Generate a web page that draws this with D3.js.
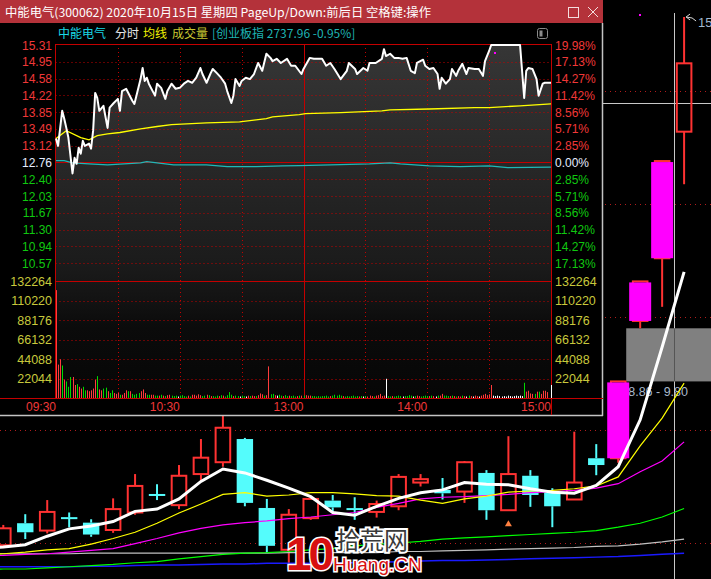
<!DOCTYPE html>
<html><head><meta charset="utf-8">
<script src="https://cdn.jsdelivr.net/npm/d3@7/dist/d3.min.js"></script>
<style>html,body{margin:0;padding:0;background:#000;overflow:hidden}svg{display:block}</style>
</head><body>
<svg id="chart" width="711" height="579"></svg>
<script>
// ================= DATA =================
const titleText = "中能电气(300062) 2020年10月15日 星期四 PageUp/Down:前后日 空格键:操作";
const stockName = "中能电气";
const indexLabel = "[创业板指 2737.96 -0.95%]";
const prevClose = 12.76;

const priceTicks = [15.31,14.95,14.58,14.22,13.85,13.49,13.12,12.76,12.40,12.03,11.67,11.30,10.94,10.57];
const pctTicks = ["19.98%","17.13%","14.27%","11.42%","8.56%","5.71%","2.85%","0.00%","2.85%","5.71%","8.56%","11.42%","14.27%","17.13%"];
const volTicks = [132264,110220,88176,66132,44088,22044];
const timeTickMin = [0,60,120,180,240];
const timeTickLabels = ["09:30","10:30","13:00","14:00","15:00"];
const gridMinutes = [30,60,90,120,150,180,210];

// intraday price (minute index from 09:30, price)
const priceMinute = [0,1,3,4,5,6,8,9,10,11,12,13,14,16,17,18,19,20,21,23,25,26,28,30,31,32,34,37,38,41,42,43,44,45,48,49,51,53,54,56,58,60,62,64,66,68,70,71,73,75,76,78,80,82,83,85,86,87,89,90,92,94,96,98,100,102,104,105,107,109,112,114,116,119,120,123,125,129,131,133,135,138,141,142,145,146,149,151,152,155,158,159,160,162,164,166,168,170,172,174,175,178,179,181,183,185,186,187,189,191,192,194,195,197,199,200,203,205,207,208,210,211,225,227,228,229,231,233,234,236,237,240];
const priceValue  = [13.28,13.12,13.88,13.71,13.51,13.30,12.52,12.86,12.73,13.08,12.95,13.23,13.12,13.17,13.06,13.45,14.27,14.16,13.88,13.99,13.51,13.95,14.05,14.14,13.88,14.31,14.36,14.10,14.03,14.57,14.81,14.53,14.60,14.47,14.21,14.47,14.38,14.14,14.31,14.47,14.36,14.38,14.47,14.53,14.49,14.60,14.81,14.68,14.49,14.70,14.79,14.70,14.60,14.47,14.31,14.05,14.21,14.57,14.42,14.53,14.60,14.57,14.68,14.92,14.75,15.12,15.03,14.96,15.01,14.92,15.01,14.86,14.86,14.68,14.79,15.03,15.01,15.01,14.86,14.92,14.79,14.57,14.75,14.92,14.79,14.68,14.81,14.75,14.92,14.92,15.01,15.22,15.07,15.12,15.03,15.03,15.01,15.03,14.75,14.70,14.92,14.99,14.86,14.79,14.81,14.68,14.36,14.60,14.47,14.57,14.79,14.64,14.75,14.90,14.68,14.81,14.79,14.79,14.64,14.96,15.18,15.31,15.31,14.16,14.75,14.81,14.79,14.57,14.21,14.47,14.49,14.49];

// average price line
const avgMinute = [0,5,12,16,20,25,31,41,49,56,73,89,102,105,118,121,138,158,162,181,203,210,225,240];
const avgValue  = [13.28,13.45,13.30,13.25,13.34,13.38,13.41,13.49,13.54,13.58,13.62,13.64,13.71,13.75,13.80,13.82,13.84,13.88,13.90,13.92,13.95,13.95,13.99,14.03];

// ChiNext index, % change
const indexMinute = [0,4,8,16,25,41,44,49,57,73,83,97,110,118,133,152,162,167,181,196,210,219,240];
const indexPct    = [0.32,0.32,-0.07,-0.24,-0.41,-0.07,0.15,-0.07,-0.41,-0.41,-0.70,-0.70,-0.58,-0.53,-0.41,-0.24,-0.07,-0.24,-0.58,-0.70,-0.58,-0.87,-0.80];

// per-minute volume (shares) and bar colour code r/g/w
const volume = [
122000,38000,44000,37000,21000,19000,13000,24000,24000,15000,
16000,13000,11000,13000,9000,9000,8000,9000,11000,21000,
25000,10000,9000,11000,12000,8000,6000,9000,6000,5000,
6000,4000,4000,6000,9000,8000,8000,5000,4000,5000,
6000,8000,10000,6000,4000,4000,4000,4000,3000,3000,
3000,4000,3000,2500,3500,4000,3000,2500,3000,2000,
3000,3500,2500,2000,3000,2000,4000,4000,3000,4500,
3500,2500,3000,4000,3500,2500,2500,2000,3000,2500,
3500,3000,2000,3500,7000,4000,2500,3000,2500,2000,
3000,2500,2000,3000,2500,3000,2500,2500,3500,5500,
4500,3000,3500,36000,4500,5000,3500,3000,4000,3000,
2500,3500,2500,3000,2500,3000,2000,2500,3000,3000,
3000,3500,3000,3000,2500,2500,2000,2500,2000,2500,
2500,3000,2000,2500,3000,4000,3000,4000,3000,2500,
2000,2500,2000,2500,3000,2000,2500,2000,2500,2000,
2500,2000,3000,2500,2000,3000,3500,5000,2500,3000,
22000,2500,2000,2500,2000,2500,3000,2500,2000,2500,
2500,3500,3000,2000,2500,3000,2500,2000,2500,3000,
2500,2500,3000,2500,2000,3000,3000,5000,3000,3000,
2500,2500,3000,2500,2000,2500,2000,3000,2500,2000,
3000,2500,2000,3000,2500,2000,3000,4000,5000,3500,
4500,15000,3000,2500,3000,2500,2000,2500,2000,3000,
2500,2000,2500,3000,2500,3000,2500,17500,7500,8500,
5500,5000,5000,7500,7500,5000,8500,8500,7000,0,
15000];
const volumeDir =
 "rrrgrgggrr"+"grrggrrrrr"+"grrggrggrr"+"rgrrrgrggg"+"grrrggrrgg"+
 "rgrgrrgggw"+"ggggrgrrrr"+"rggrgrgggr"+"grggggrggw"+"ggwrgrrgrr"+
 "rgrrggrwgg"+"rggrgggrgr"+
 "grrrgggggg"+"gggrgggggr"+"gggggggrgw"+"grrrgrrrrr"+
 "wggrggggwg"+"gggwgrrggg"+"grgrwgrrgg"+"grgrgrrgrw"+
 "grwrrwrrrr"+"rrwwwwwwww"+"wwwwwwwgrr"+"rrgrgrrrrw"+"w";

// daily candles behind the popup (index 1..32)
const kOpen  = [5.96,6.35,6.22,6.45,6.36,6.23,6.54,6.86,6.67,7.22,7.43,7.84,6.62,5.88,6.44,6.75,6.61,6.55,6.65,7.07,6.94,6.91,7.24,6.58,7.19,6.89,6.77,7.50,7.50,9.93,11.04,13.28];
const kHigh  = [6.32,6.51,6.76,6.54,6.42,6.79,7.22,7.04,7.38,7.84,8.35,7.86,6.78,6.60,6.81,6.85,6.81,6.75,7.22,7.22,7.15,7.45,7.29,7.89,7.29,6.97,7.97,7.75,8.86,10.63,12.76,15.31];
const kLow   = [5.91,6.07,6.17,6.28,6.11,6.18,6.50,6.76,6.60,7.08,7.35,6.65,5.83,5.56,6.41,6.54,6.41,6.45,6.58,7.00,6.77,6.71,6.41,6.58,6.64,6.28,6.77,7.20,7.42,9.80,10.18,12.35];
const kClose = [6.26,6.19,6.55,6.43,6.15,6.60,7.01,6.84,7.19,7.51,8.04,6.71,5.95,6.50,6.78,6.63,6.59,6.69,7.17,7.13,6.88,7.43,6.58,7.22,6.85,6.65,7.07,7.38,8.86,10.63,12.76,14.49];
// moving averages, index 0..32 (0 is just off-screen)
const ma5   = [5.90,5.93,5.97,6.12,6.25,6.30,6.38,6.56,6.60,6.78,7.09,7.31,7.24,7.11,6.97,6.82,6.54,6.49,6.65,6.79,6.89,6.94,7.07,7.04,7.03,6.96,6.90,6.88,7.02,7.35,8.18,9.47,10.80];
const ma10  = [5.80,5.81,5.84,5.88,5.90,5.98,6.08,6.19,6.35,6.53,6.69,6.86,6.89,6.83,6.85,6.89,6.89,6.87,6.84,6.83,6.76,6.70,6.78,6.83,6.90,6.92,6.93,6.96,7.01,7.17,7.72,8.21,8.83];
const ma20  = [5.77,5.78,5.80,5.81,5.84,5.87,5.90,5.99,6.08,6.18,6.26,6.32,6.36,6.39,6.43,6.46,6.50,6.54,6.63,6.70,6.78,6.81,6.82,6.84,6.86,6.89,6.91,6.93,6.97,7.05,7.26,7.45,7.79];
const ma60  = [5.53,5.54,5.54,5.56,5.58,5.60,5.62,5.65,5.67,5.72,5.76,5.80,5.82,5.83,5.85,5.88,5.90,5.95,5.98,6.00,6.03,6.07,6.09,6.11,6.13,6.15,6.17,6.19,6.22,6.28,6.35,6.46,6.61];
const ma120 = [5.81,5.81,5.81,5.81,5.81,5.82,5.82,5.82,5.82,5.82,5.82,5.82,5.82,5.82,5.83,5.83,5.83,5.83,5.83,5.85,5.85,5.86,5.87,5.88,5.89,5.90,5.91,5.92,5.94,5.95,5.98,6.02,6.07];
const ma250 = [5.58,5.58,5.58,5.58,5.58,5.59,5.59,5.60,5.61,5.61,5.62,5.63,5.63,5.64,5.64,5.64,5.65,5.65,5.66,5.67,5.68,5.69,5.69,5.70,5.71,5.72,5.73,5.74,5.75,5.76,5.78,5.80,5.82];
const kGridPrices = [6,8,10,12,14];
const gapLow = 8.86, gapHigh = 9.80;
const signalCandle = 24;

// ================= DRAW =================
const W = 711, H = 579;
const NUM = '"Liberation Sans", Arial, sans-serif';
const CJK = '"Noto Sans CJK SC","Noto Sans",sans-serif';
const svg = d3.select("#chart");
svg.append("rect").attr("width", W).attr("height", H).attr("fill", "#000");
const defs = svg.append("defs");

// ---------- background daily K-line chart ----------
const kx = d3.scaleLinear().domain([1, 32]).range([3.3, 684.1]);
const ky = d3.scaleLinear().domain([6, 14]).range([543, 91]);
const K = svg.append("g");
K.selectAll("line.kg").data(kGridPrices).join("line")
  .attr("x1", 0).attr("x2", W)
  .attr("y1", d => Math.round(ky(d)) + 0.5).attr("y2", d => Math.round(ky(d)) + 0.5)
  .attr("stroke", "#b01c1c").attr("stroke-dasharray", "1,4");

// crosshair
K.append("line").attr("x1", 674.5).attr("x2", 674.5).attr("y1", 13).attr("y2", H).attr("stroke", "#c8c8c8");
K.append("line").attr("x1", 0).attr("x2", W).attr("y1", 103.5).attr("y2", 103.5).attr("stroke", "#c8c8c8");

// gap box
const gx0 = kx(29) + 8;
K.append("rect").attr("x", gx0).attr("y", ky(gapHigh)).attr("width", W - gx0)
  .attr("height", ky(gapLow) - ky(gapHigh)).attr("fill", "#808080");
K.append("line").attr("x1", 674.5).attr("x2", 674.5).attr("y1", ky(gapHigh)).attr("y2", ky(gapLow)).attr("stroke", "#555");
K.append("text").attr("x", gx0 + 2).attr("y", ky(gapLow) + 15)
  .attr("fill", "#a8b8cc").style("font-family", NUM).style("font-size", "12.5px")
  .text(gapLow.toFixed(2) + " - " + gapHigh.toFixed(2));

const candles = kOpen.map((o, i) => ({ i: i + 1, o, h: kHigh[i], l: kLow[i], c: kClose[i], prev: i > 0 ? kClose[i - 1] : null }));
const RED = "#ff3232", CYAN = "#54fcfc";
candles.forEach(c => {
  const up = c.c >= c.o, col = up ? RED : CYAN;
  const x = kx(c.i);
  const yo = ky(c.o), yc = ky(c.c), yh = ky(c.h), yl = ky(c.l);
  const top = Math.min(yo, yc), bot = Math.max(yo, yc);
  if (yh < top - 0.5) K.append("line").attr("x1", x).attr("x2", x).attr("y1", yh).attr("y2", top).attr("stroke", col).attr("stroke-width", 2);
  if (yl > bot + 0.5) K.append("line").attr("x1", x).attr("x2", x).attr("y1", bot).attr("y2", yl).attr("stroke", col).attr("stroke-width", 2);
  if (up) {
    K.append("rect").attr("x", x - 7.3).attr("y", top).attr("width", 14.6).attr("height", Math.max(bot - top, 1))
      .attr("fill", "none").attr("stroke", col).attr("stroke-width", 2);
  } else {
    const hgt = Math.max(bot - top, 2);
    K.append("rect").attr("x", x - 8.2).attr("y", (top + bot) / 2 - hgt / 2).attr("width", 16.4).attr("height", hgt).attr("fill", col);
  }
  if (c.prev && c.c >= c.prev * 1.195) {
    K.append("rect").attr("x", x - 11).attr("y", yc + 1).attr("width", 22).attr("height", yo - yc - 1).attr("fill", "#ff00ff");
  }
});

const maLine = d3.line().x((d, i) => kx(i)).y(d => ky(d));
[[ma250, "#1a1aff", 1.5], [ma120, "#c0c0c0", 1.2], [ma60, "#00ff00", 1.2], [ma20, "#ff00ff", 1.2], [ma10, "#ffff00", 1.2], [ma5, "#ffffff", 3]]
  .forEach(([arr, col, w]) => K.append("path").attr("d", maLine(arr)).attr("fill", "none").attr("stroke", col).attr("stroke-width", w));

// signal marker
{
  const sx = kx(signalCandle), sy = ky(kLow[signalCandle - 1]) + 10;
  K.append("path").attr("d", `M${sx - 3.5},${sy + 6} L${sx},${sy} L${sx + 3.5},${sy + 6} Z`).attr("fill", "#ff8040");
}
// high annotation on last candle (runs off the right edge, as in the source)
{
  const hx = kx(32), hy = ky(kHigh[31]);
  K.append("path").attr("d", `M${hx + 2},${hy} l4,-3 M${hx + 2},${hy} l4,3 M${hx + 2},${hy} L${hx + 8},${hy + 1} L${hx + 12},${hy + 4}`)
    .attr("stroke", "#d8d8d8").attr("fill", "none").attr("stroke-width", 1);
  K.append("text").attr("x", hx + 14).attr("y", hy + 10).attr("fill", "#a0b8d0")
    .style("font-family", NUM).style("font-size", "13px").text(kHigh[31].toFixed(2));
}
K.append("rect").attr("x", 639).attr("y", 14).attr("width", 2).attr("height", 2).attr("fill", "#ff00ff");

// ---------- intraday popup ----------
const P = svg.append("g");
P.append("rect").attr("x", 0).attr("y", 0).attr("width", 603).attr("height", 416).attr("fill", "#000");
P.append("rect").attr("x", 0).attr("y", 0).attr("width", 603).attr("height", 23).attr("fill", "#b4323a");
P.append("text").attr("x", 5).attr("y", 16.5).attr("fill", "#fff")
  .style("font-family", CJK).style("font-size", "12px")
  .attr("textLength", 426).attr("lengthAdjust", "spacingAndGlyphs").text(titleText);
P.append("rect").attr("x", 568.5).attr("y", 7.5).attr("width", 10).attr("height", 10).attr("fill", "none").attr("stroke", "#f4dede");
P.append("path").attr("d", "M588,7 L598,17 M598,7 L588,17").attr("stroke", "#f4dede").attr("fill", "none");
P.append("line").attr("x1", 602.5).attr("x2", 602.5).attr("y1", 23).attr("y2", 416).attr("stroke", "#c4c4c4").attr("stroke-width", 1.5);
P.append("line").attr("x1", 0).attr("x2", 603).attr("y1", 415.5).attr("y2", 415.5).attr("stroke", "#c4c4c4").attr("stroke-width", 1.5);

// header
[[58, stockName, "#1ad8e6"], [115, "分时", "#e6e6e6"], [143, "均线", "#f0f000"], [172, "成交量", "#c8c832"], [212, indexLabel, "#1eb4b4"]]
  .forEach(([x, t, c]) => P.append("text").attr("x", x).attr("y", 37.5).attr("fill", c)
    .style("font-family", CJK).style("font-size", "12px").text(t));
P.append("rect").attr("x", 537.5).attr("y", 28.5).attr("width", 10).attr("height", 10).attr("rx", 2)
  .attr("fill", "none").attr("stroke", "#8a8a8a");
P.append("rect").attr("x", 539.5).attr("y", 30.5).attr("width", 3).attr("height", 6).attr("fill", "#8a8a8a");

const px = d3.scaleLinear().domain([0, 240]).range([56, 551]);
const py = d3.scaleLinear().domain([10.57, 15.31]).range([263.3, 45]);
const vy = d3.scaleLinear().domain([0, 132264]).range([398.3, 281]);

const grad = defs.append("linearGradient").attr("id", "ag").attr("gradientUnits", "userSpaceOnUse")
  .attr("x1", 0).attr("x2", 0).attr("y1", 45).attr("y2", 398);
[[0, "#363636"], [0.33, "#282828"], [0.62, "#1b1b1b"], [0.72, "#131313"], [0.8, "#0b0b0b"], [1, "#060606"]]
  .forEach(([o, c]) => grad.append("stop").attr("offset", o).attr("stop-color", c));

const pts = priceMinute.map((m, i) => ({ m, p: priceValue[i] }));
P.append("path").attr("d", d3.area().x(d => px(d.m)).y0(398).y1(d => py(d.p))(pts)).attr("fill", "url(#ag)");

const GRID = "#c40000";
const pL = 55.5, pR = 551.5;
// price grid
priceTicks.forEach((v, i) => {
  const y = Math.round(py(v)) + 0.5;
  const solid = (i === 0 || v === prevClose);
  P.append("line").attr("x1", pL).attr("x2", pR).attr("y1", i === 0 ? y - 1 : y).attr("y2", i === 0 ? y - 1 : y)
    .attr("stroke", GRID).attr("stroke-dasharray", solid ? null : "1,3");
});
volTicks.forEach((v, i) => {
  const y = Math.round(vy(v)) + 0.5;
  P.append("line").attr("x1", pL).attr("x2", pR).attr("y1", y).attr("y2", y)
    .attr("stroke", GRID).attr("stroke-dasharray", i === 0 ? null : "1,3");
});
P.append("line").attr("x1", 0).attr("x2", 603).attr("y1", 398.5).attr("y2", 398.5).attr("stroke", GRID);
gridMinutes.forEach(m => {
  const x = Math.round(px(m)) + 0.5;
  P.append("line").attr("x1", x).attr("x2", x).attr("y1", 44).attr("y2", 398)
    .attr("stroke", GRID).attr("stroke-dasharray", m === 120 ? null : "1,3");
});
P.append("line").attr("x1", pL).attr("x2", pL).attr("y1", 44).attr("y2", 398.5).attr("stroke", GRID);
P.append("line").attr("x1", pR).attr("x2", pR).attr("y1", 44).attr("y2", 415).attr("stroke", GRID);

// avg, index, price lines
P.append("path").attr("d", d3.line().x((d, i) => px(avgMinute[i])).y(d => py(d))(avgValue))
  .attr("fill", "none").attr("stroke", "#ffff00").attr("stroke-width", 1.3);
P.append("path").attr("d", d3.line().x((d, i) => px(indexMinute[i])).y(d => py(prevClose * (1 + d / 100)))(indexPct))
  .attr("fill", "none").attr("stroke", "#1fb8b8").attr("stroke-width", 1.3);
P.append("path").attr("d", d3.line().x(d => px(d.m)).y(d => py(d.p))(pts))
  .attr("fill", "none").attr("stroke", "#ffffff").attr("stroke-width", 2).attr("stroke-linejoin", "round");
P.append("rect").attr("x", 494).attr("y", 52).attr("width", 2).attr("height", 2).attr("fill", "#ff00ff");

// volume bars
const vcol = { r: "#ff3c3c", g: "#00d800", w: "#ffffff" };
volume.forEach((v, i) => {
  if (v <= 0) return;
  const x = Math.round(px(i)) + 0.5;
  P.append("line").attr("x1", x).attr("x2", x).attr("y1", 398).attr("y2", vy(v)).attr("stroke", vcol[volumeDir[i]]);
});

// axis labels
const colFor = v => v > prevClose ? "#f03838" : (v < prevClose ? "#10c810" : "#e4ecff");
priceTicks.forEach((v, i) => {
  P.append("text").attr("x", 52).attr("y", py(v) + 4.5).attr("text-anchor", "end").attr("fill", colFor(v))
    .style("font-family", NUM).style("font-size", "12px").text(v.toFixed(2));
  P.append("text").attr("x", 555).attr("y", py(v) + 4.5).attr("fill", colFor(v))
    .style("font-family", NUM).style("font-size", "12px").text(pctTicks[i]);
});
volTicks.forEach(v => {
  P.append("text").attr("x", 52).attr("y", vy(v) + 4.5).attr("text-anchor", "end").attr("fill", "#c8c83c")
    .style("font-family", NUM).style("font-size", "12.5px").text(v);
  P.append("text").attr("x", 555).attr("y", vy(v) + 4.5).attr("fill", "#c8c83c")
    .style("font-family", NUM).style("font-size", "12.5px").text(v);
});
timeTickMin.forEach((m, i) => {
  P.append("text").attr("x", px(m)).attr("y", 411).attr("text-anchor", "end").attr("fill", "#f03838")
    .style("font-family", NUM).style("font-size", "12px").text(timeTickLabels[i]);
});

// ---------- watermark ----------
const WM = svg.append("g");
WM.append("text").attr("x", 286).attr("y", 570).attr("fill", "#d81010").attr("stroke", "#fff").attr("stroke-width", 3)
  .attr("paint-order", "stroke").style("font-family", NUM).style("font-weight", "bold").style("font-size", "46px").attr("textLength", 48).text("10");
WM.append("text").attr("x", 336).attr("y", 549).attr("fill", "#3a3a3a").attr("stroke", "#fff").attr("stroke-width", 4)
  .attr("paint-order", "stroke").style("font-family", CJK).style("font-size", "24px").text("拾荒网");
WM.append("text").attr("x", 333).attr("y", 571).attr("fill", "#d81010").attr("stroke", "#fff").attr("stroke-width", 3)
  .attr("paint-order", "stroke").style("font-family", NUM).style("font-size", "19px").text("Huang.CN");
</script>
</body></html>
